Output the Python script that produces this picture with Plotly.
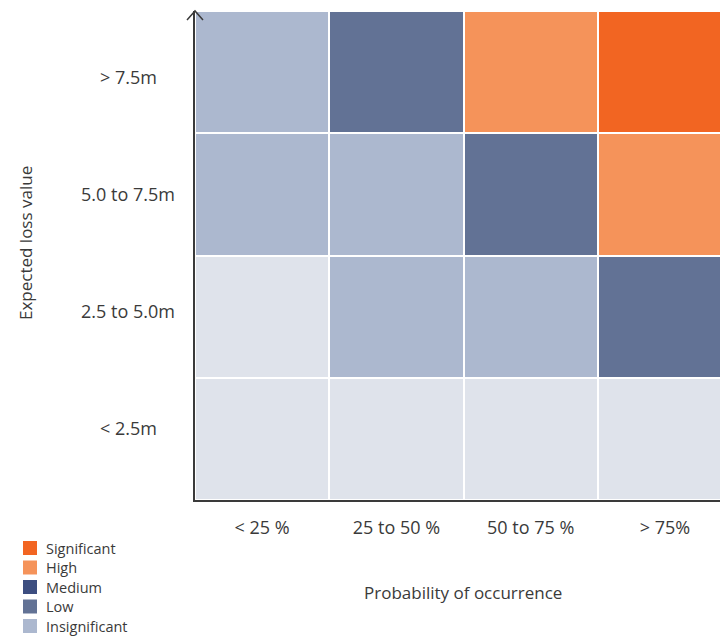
import plotly.graph_objects as go

# Risk matrix: probability of occurrence (columns) vs expected loss value (rows)
probability = ["< 25 %", "25 to 50 %", "50 to 75 %", "> 75%"]
loss_value = ["< 2.5m", "2.5 to 5.0m", "5.0 to 7.5m", "> 7.5m"]  # bottom to top

# Rating levels (index = z value) and the fill used for each
levels = ["None", "Insignificant", "Low", "Medium", "High", "Significant"]
level_colors = ["#dfe3eb", "#acb8cf", "#627295", "#3d4e80", "#f5935a", "#f26522"]

# Ratings per cell, one row per loss band (bottom to top)
ratings = [
    ["None", "None", "None", "None"],
    ["None", "Insignificant", "Insignificant", "Low"],
    ["Insignificant", "Insignificant", "Low", "High"],
    ["Insignificant", "Low", "High", "Significant"],
]

# Legend entries, top to bottom
legend_items = ["Significant", "High", "Medium", "Low", "Insignificant"]

z = [[levels.index(r) for r in row] for row in ratings]
n = len(levels)
colorscale = []
for i, c in enumerate(level_colors):
    colorscale.append([i / n, c])
    colorscale.append([(i + 1) / n, c])

TEXT = "#3a3a3a"
FONT = "Open Sans"

W, H = 720, 637
ML, MR, MT, MB = 195, 0, 11, 137
PW, PH = W - ML - MR, H - MT - MB


def px_x(x):
    return (x - ML) / PW


def px_y(y):
    return (H - MB - y) / PH


fig = go.Figure()
fig.add_trace(go.Heatmap(
    z=z, x=list(range(len(probability))), y=list(range(len(loss_value))),
    colorscale=colorscale, zmin=-0.5, zmax=n - 0.5, showscale=False,
    xgap=2, ygap=2, hoverinfo="skip",
))

fig.update_xaxes(
    tickvals=list(range(len(probability))), ticktext=probability,
    range=[-0.5, 3.41], showline=True, linecolor=TEXT, linewidth=2,
    showgrid=False, zeroline=False, ticks="", ticklabelstandoff=10,
    tickfont=dict(size=18, color=TEXT), fixedrange=True,
)
fig.update_yaxes(
    range=[-0.5, 3.5], showline=True, linecolor=TEXT, linewidth=2,
    showgrid=False, zeroline=False, showticklabels=False, ticks="",
    fixedrange=True,
)

# Loss-band labels centred in the left margin
label_shift = [11, 6, 0, -5]
for i, lab in enumerate(loss_value):
    fig.add_annotation(
        text=lab, xref="paper", yref="y", x=px_x(128), y=i, yshift=label_shift[i],
        xanchor="center", yanchor="middle", showarrow=False,
        font=dict(size=18, color=TEXT),
    )

# Axis titles
fig.add_annotation(
    text="Expected loss value", xref="paper", yref="paper", x=px_x(25), y=px_y(243),
    textangle=-90, showarrow=False, xanchor="center", yanchor="middle",
    font=dict(size=17, color=TEXT),
)
fig.add_annotation(
    text="Probability of occurrence", xref="paper", yref="paper", x=px_x(463), y=px_y(592),
    showarrow=False, xanchor="center", yanchor="middle",
    font=dict(size=17, color=TEXT),
)

# Arrowhead on top of the vertical axis
fig.add_shape(
    type="path", xref="paper", yref="paper",
    xsizemode="pixel", ysizemode="pixel", xanchor=0, yanchor=1,
    path="M-8,-9 L0,0 L8,-9", line=dict(color=TEXT, width=1.5),
)

# Colour key in the lower-left corner
for k, name in enumerate(legend_items):
    cy = 548 + 19.5 * k
    fig.add_shape(
        type="rect", xref="paper", yref="paper",
        x0=px_x(23), x1=px_x(37), y0=px_y(cy + 7), y1=px_y(cy - 7),
        fillcolor=level_colors[levels.index(name)], line=dict(width=0),
    )
    fig.add_annotation(
        text=name, xref="paper", yref="paper", x=px_x(45), y=px_y(cy),
        xanchor="left", yanchor="middle", showarrow=False, borderpad=0,
        font=dict(size=14.5, color=TEXT),
    )

fig.update_layout(
    width=W, height=H,
    margin=dict(l=ML, r=MR, t=MT, b=MB, autoexpand=False),
    plot_bgcolor="white", paper_bgcolor="white",
    font=dict(family=FONT, size=17, color=TEXT),
    showlegend=False,
)

fig.write_html("out.html")
